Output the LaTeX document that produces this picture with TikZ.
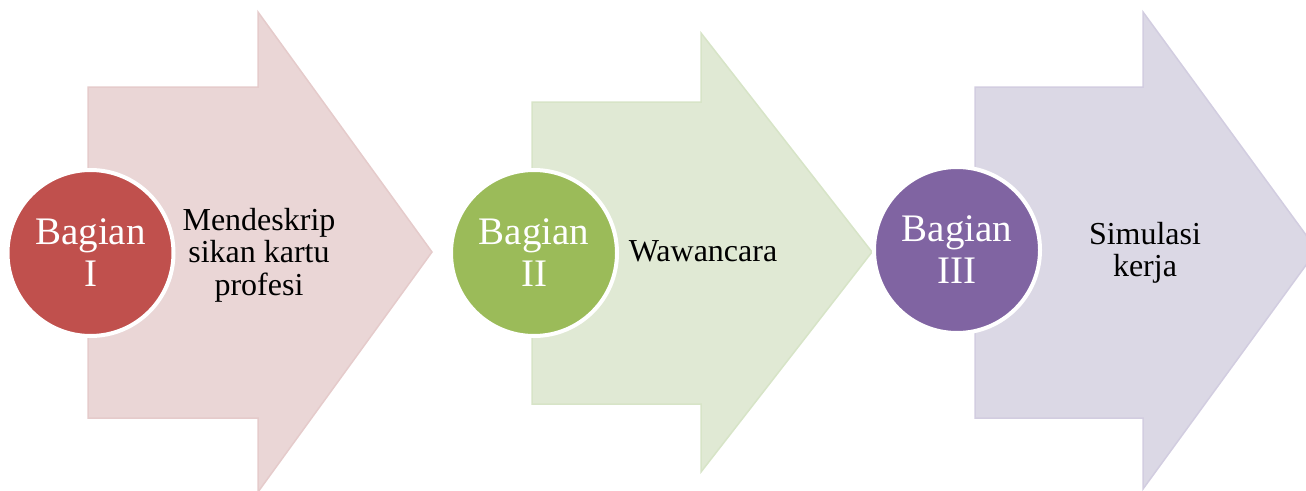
\documentclass[tikz,border=0pt]{standalone}
\usepackage{fontspec}
\setmainfont{Liberation Serif}
\definecolor{redA}{RGB}{192,80,77}
\definecolor{greenA}{RGB}{155,187,89}
\definecolor{purpleA}{RGB}{128,100,162}
\definecolor{redT}{RGB}{234,214,214}
\definecolor{redL}{RGB}{229,203,203}
\definecolor{greenT}{RGB}{224,233,212}
\definecolor{greenL}{RGB}{215,228,199}
\definecolor{purpleT}{RGB}{219,216,229}
\definecolor{purpleL}{RGB}{210,205,224}
\tikzset{
  bigarrow/.style={line width=1.5pt, line join=miter},
  badge/.style={circle, minimum size=166pt, inner sep=0pt, outer sep=0pt,
    draw=white, line width=4pt, text=white, align=center,
    font=\fontsize{39}{42}\selectfont},
  desc/.style={inner sep=0pt, align=center, text=black,
    font=\fontsize{32}{32.5}\selectfont}
}
\begin{document}
\begin{tikzpicture}[x=1pt, y=-1pt]
  \useasboundingbox (0,0) rectangle (1306,490);
  \clip (0,0) rectangle (1306,490);
  % block arrows
  \draw[bigarrow, fill=redT, draw=redL]
    (88,87) -- (258,87) -- (258,12) -- (432,252) -- (258,492) -- (258,418) -- (88,418) -- cycle;
  \draw[bigarrow, fill=greenT, draw=greenL]
    (532,102) -- (701,102) -- (701,33) -- (872,252) -- (701,472) -- (701,404) -- (532,404) -- cycle;
  \draw[bigarrow, fill=purpleT, draw=purpleL]
    (975,87) -- (1143,87) -- (1143,12) -- (1317,250) -- (1143,489) -- (1143,418) -- (975,418) -- cycle;
  % step badges
  \node[badge, fill=redA] (b1) at (90.5,253) {Bagian\\I};
  \node[badge, fill=greenA] (b2) at (534,253) {Bagian\\II};
  \node[badge, fill=purpleA] (b3) at (957,250) {Bagian\\III};
  % descriptions
  \node[desc] (d1) at (259,255) {Mendeskrip\\sikan kartu\\profesi};
  \node[desc] (d2) at (703,251) {Wawancara};
  \node[desc] (d3) at (1145,253) {Simulasi\\kerja};
\end{tikzpicture}
\end{document}
